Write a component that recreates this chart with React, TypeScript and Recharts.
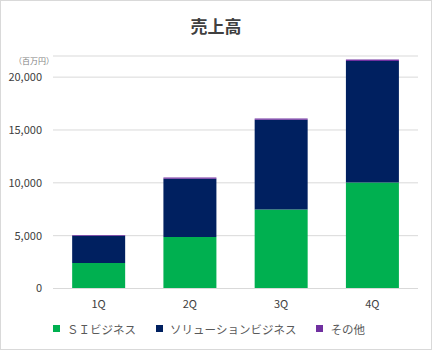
import { BarChart, Bar, XAxis, YAxis, CartesianGrid, Legend } from 'recharts';

const quarters = ['1Q', '2Q', '3Q', '4Q'];
const siBusiness = [2420, 4880, 7470, 10030];
const solutionBusiness = [2560, 5500, 8500, 11500];
const others = [90, 120, 120, 130];
const yTicks = [0, 5000, 10000, 15000, 20000];

const series = [
    { key: 'si', name: 'ＳＩビジネス', color: '#00B050' },
    { key: 'solution', name: 'ソリューションビジネス', color: '#002060' },
    { key: 'other', name: 'その他', color: '#7030A0' },
];

const chartData = quarters.map((q, i) => ({
    quarter: q,
    si: siBusiness[i],
    solution: solutionBusiness[i],
    other: others[i],
}));

const FONT = '"Noto Sans CJK JP", "Noto Sans", sans-serif';

function LegendRow() {
    return (
        <div style={{ display: 'flex', justifyContent: 'center', alignItems: 'center', gap: 20, fontFamily: FONT, fontSize: 11.5, color: '#595959' }}>
            {series.map(s => (
                <div key={s.key} style={{ display: 'flex', alignItems: 'center' }}>
                    <span style={{ width: 7, height: 7, background: s.color, display: 'inline-block', marginRight: 7 }} />
                    <span>{s.name}</span>
                </div>
            ))}
        </div>
    );
}

export default function App() {
    return (
        <div style={{ position: 'fixed', left: 0, top: 0, width: 432, height: 350, background: '#fff', border: '1px solid #d9d9d9', boxSizing: 'border-box' }}>
            <div style={{ position: 'absolute', left: 0, right: 0, top: 12, textAlign: 'center', fontFamily: FONT, fontWeight: 700, fontSize: 17, color: '#404040' }}>
                売上高
            </div>
            <div style={{ position: 'absolute', left: 13, top: 54, fontFamily: FONT, fontSize: 8, color: '#7f7f7f' }}>
                （百万円）
            </div>
            <div style={{ position: 'absolute', left: -1, top: -1 }}>
                <BarChart width={432} height={350} data={chartData} margin={{ top: 56, right: 14, bottom: 0, left: 0 }} barCategoryGap="21%">
                    <CartesianGrid vertical={false} stroke="#d9d9d9" />
                    <XAxis
                        dataKey="quarter"
                        height={32}
                        axisLine={{ stroke: '#d9d9d9' }}
                        tickLine={false}
                        tickMargin={6}
                        tick={{ fontSize: 11, fill: '#404040', fontFamily: FONT }}
                    />
                    <YAxis
                        width={53}
                        domain={[0, 22000]}
                        ticks={yTicks}
                        axisLine={false}
                        tickLine={false}
                        tickMargin={5}
                        tickFormatter={(v: number) => v.toLocaleString('en-US')}
                        tick={{ fontSize: 11, fill: '#404040', fontFamily: FONT }}
                    />
                    <Legend verticalAlign="bottom" height={29.5} content={() => <LegendRow />} wrapperStyle={{ bottom: 0 }} />
                    {series.map(s => (
                        <Bar key={s.key} dataKey={s.key} name={s.name} stackId="a" fill={s.color} isAnimationActive={false} />
                    ))}
                </BarChart>
            </div>
        </div>
    );
}
